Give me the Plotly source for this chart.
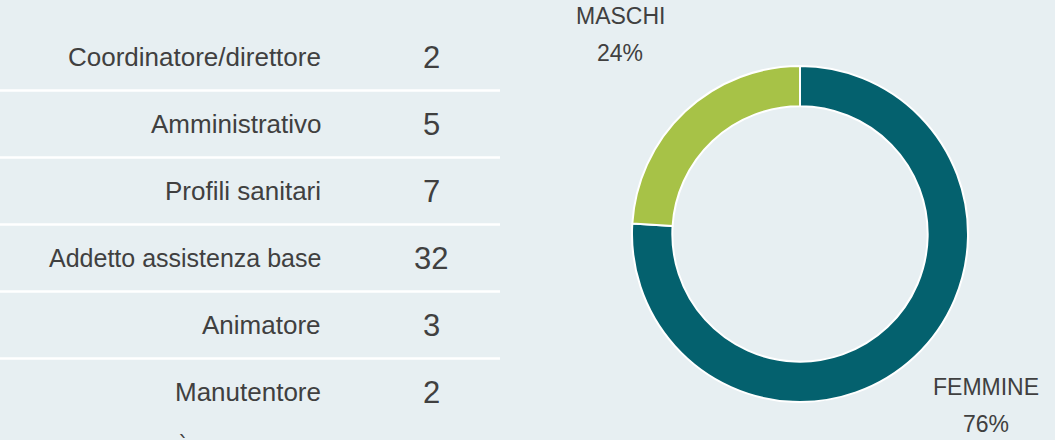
import plotly.graph_objects as go

# ---- data ----
roles = ["Coordinatore/direttore", "Amministrativo", "Profili sanitari",
         "Addetto assistenza base", "Animatore", "Manutentore"]
counts = [2, 5, 7, 32, 3, 2]

gender_labels = ["FEMMINE", "MASCHI"]
gender_pct = [76, 24]
gender_colors = ["#04616e", "#a7c247"]

BG = "#e7eff2"
TXT = "#404040"
FONT = "Liberation Sans, Arial, sans-serif"

W, H = 1055, 440
row_top = 57      # pixel centre of first row
row_step = 67     # pixel distance between rows

fig = go.Figure()

# invisible scatter to set up axes
fig.add_trace(go.Scatter(x=[0], y=[0], mode="markers", marker=dict(opacity=0),
                         showlegend=False, hoverinfo="skip"))

# donut
fig.add_trace(go.Pie(
    labels=gender_labels, values=gender_pct, sort=False, direction="clockwise",
    rotation=0, hole=0.76, textinfo="none", showlegend=False,
    marker=dict(colors=gender_colors, line=dict(color="white", width=2)),
    domain=dict(x=[632 / W, 968 / W], y=[(H - 402) / H, (H - 66) / H]),
))

# separators between rows
for i in range(len(roles) - 1):
    fig.add_shape(type="line", xref="x", yref="y", x0=0, x1=500,
                  y0=i + 0.5, y1=i + 0.5, line=dict(color="white", width=2.5))

# table text
for i, (r, c) in enumerate(zip(roles, counts)):
    fig.add_annotation(x=323, y=i, xref="x", yref="y", text=r, showarrow=False,
                       xanchor="right", yanchor="middle",
                       font=dict(size=26 if i != 3 else 25, color=TXT, family=FONT))
    fig.add_annotation(x=431, y=i, xref="x", yref="y", text=str(c), showarrow=False,
                       xanchor="center", yanchor="middle",
                       font=dict(size=31, color=TXT, family=FONT))

# donut labels (paper pixel coords)
def add_lbl(xp, yp, txt):
    fig.add_annotation(x=xp / W, y=1 - yp / H, xref="paper", yref="paper", text=txt,
                       showarrow=False, xanchor="center", yanchor="middle",
                       font=dict(size=23, color=TXT, family=FONT))

add_lbl(620, 16, gender_labels[1])
add_lbl(620, 53, f"{gender_pct[1]}%")
add_lbl(986, 387, gender_labels[0])
add_lbl(986, 424, f"{gender_pct[0]}%")

# visible accent of a cut-off line at the bottom edge
fig.add_annotation(x=183 / W, y=0, xref="paper", yref="paper", text="ˎ",
                   showarrow=False, xanchor="center", yanchor="bottom",
                   font=dict(size=22, color=TXT, family="DejaVu Sans"))

fig.update_layout(
    width=W, height=H, margin=dict(l=0, r=0, t=0, b=0),
    paper_bgcolor=BG, plot_bgcolor=BG,
    xaxis=dict(range=[0, W], domain=[0, 1], visible=False, fixedrange=True),
    yaxis=dict(range=[(H - row_top) / row_step, -row_top / row_step],
               domain=[0, 1], visible=False, fixedrange=True),
)

fig.write_html("out.html")
